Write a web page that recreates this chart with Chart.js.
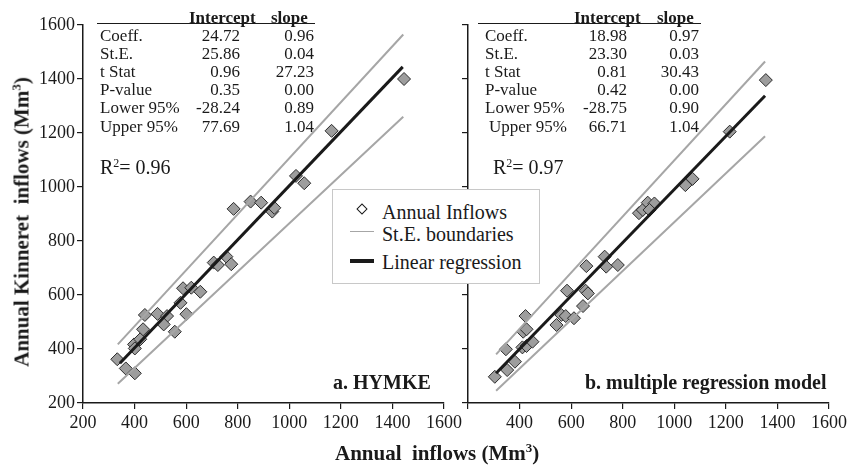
<!DOCTYPE html>
<html>
<head>
<meta charset="utf-8">
<script src="https://cdn.jsdelivr.net/npm/chart.js@4.4.0/dist/chart.umd.min.js"></script>
<style>
  body { margin: 0; width: 847px; height: 466px; overflow: hidden; background: #fff; position: relative;
         font-family: "Liberation Serif", "Times New Roman", serif; color: #1a1a1a; }
  .panel { position: absolute; top: 0; height: 466px; }
  .txt { position: absolute; white-space: nowrap; line-height: 1; }
  .tbl { font-size: 17px; }
  .hdr { font-weight: bold; font-size: 17px; }
  .num { text-align: right; width: 70px; }
  .rule { position: absolute; height: 0; border-top: 1.5px solid #1a1a1a; }
  .r2 { font-size: 20px; }
  .r2 sup { font-size: 12px; vertical-align: 7px; line-height: 0; }
  .ptitle { font-weight: bold; font-size: 20px; }
  .axtitle { font-weight: bold; font-size: 21px; }
  .axtitle sup { font-size: 13px; vertical-align: 8px; line-height: 0; }
  #legend { position: absolute; left: 332px; top: 189px; width: 206px; height: 93px;
            border: 1px solid #c8c8c8; background: #fff; }
  #legend .txt { font-size: 20px; }
</style>
</head>
<body>
<div class="panel" style="left:0;width:465px"><canvas id="hymke"></canvas></div>
<div class="panel" style="left:430px;width:420px"><canvas id="mrm"></canvas></div>
<div id="overlay"></div>

<script>
// Annual inflows (Mm3): model estimate (x) vs observed Kinneret inflow (y)
const hymkeX = [333, 366, 401, 398, 401, 422, 433, 440, 489, 526, 513, 556, 578, 601, 588, 620, 655,
                707, 723, 756, 775, 784, 850, 891, 934, 942, 1026, 1058, 1164, 1445];
const hymkeY = [362, 328, 310, 417, 402, 436, 473, 526, 530, 522, 491, 464, 571, 529, 625, 627, 612,
                720, 711, 742, 714, 919, 946, 942, 909, 923, 1041, 1014, 1208, 1400];
const mrmX = [304, 352, 347, 382, 423, 414, 427, 411, 427, 450, 543, 562, 579, 611, 584, 646, 656,
              665, 659, 730, 736, 781, 863, 878, 897, 923, 904, 1043, 1071, 1215, 1355];
const mrmY = [297, 322, 399, 353, 522, 464, 473, 406, 411, 427, 489, 526, 522, 514, 616, 559, 616,
              606, 707, 742, 705, 711, 903, 915, 942, 939, 915, 1007, 1030, 1205, 1396];

// line end points: [x start, x end] and [y start, y end]
const hymkeUpperX = [335, 1442], hymkeUpperY = [417, 1565];
const hymkeFitX = [343, 1440], hymkeFitY = [347, 1445];
const hymkeLowerX = [335, 1442], hymkeLowerY = [271, 1260];
const mrmUpperX = [309, 1352], mrmUpperY = [380, 1465];
const mrmFitX = [309, 1352], mrmFitY = [310, 1338];
const mrmLowerX = [309, 1352], mrmLowerY = [245, 1188];

const axisTicks = [200, 400, 600, 800, 1000, 1200, 1400, 1600];

// regression summary tables
const statRows = ["Coeff.", "St.E.", "t Stat", "P-value", "Lower 95%", "Upper 95%"];
const hymkeIntercept = ["24.72", "25.86", "0.96", "0.35", "-28.24", "77.69"];
const hymkeSlope = ["0.96", "0.04", "27.23", "0.00", "0.89", "1.04"];
const mrmIntercept = ["18.98", "23.30", "0.81", "0.42", "-28.75", "66.71"];
const mrmSlope = ["0.97", "0.03", "30.43", "0.00", "0.90", "1.04"];
const hymkeR2 = "0.96", mrmR2 = "0.97";

Chart.defaults.font.family = '"Liberation Serif", "Times New Roman", serif';
Chart.defaults.color = '#1a1a1a';

function pairs(xs, ys) {
  return xs.map((x, i) => ({ x: x, y: ys[i] }));
}

function lineSet(xs, ys, color, width) {
  return {
    type: 'line', data: pairs(xs, ys), borderColor: color, borderWidth: width,
    pointRadius: 0, fill: false, order: 0
  };
}

function makeChart(id, xs, ys, upper, fit, lower, yAxisWidth, showYLabels, skipFirstX) {
  new Chart(document.getElementById(id), {
    type: 'scatter',
    data: {
      datasets: [
        lineSet(fit[0], fit[1], '#1a1a1a', 3),
        lineSet(upper[0], upper[1], '#a6a6a6', 2),
        lineSet(lower[0], lower[1], '#a6a6a6', 2),
        {
          data: pairs(xs, ys), pointStyle: 'rectRot', pointRadius: 6.5,
          backgroundColor: '#9d9d9d', borderColor: '#2b2b2b', borderWidth: 1, order: 1
        }
      ]
    },
    options: {
      responsive: true,
      maintainAspectRatio: false,
      animation: false,
      layout: { padding: { top: 25, right: 20, left: 0, bottom: 0 } },
      plugins: { legend: { display: false }, tooltip: { enabled: false } },
      scales: {
        x: {
          type: 'linear', min: axisTicks[0], max: axisTicks[axisTicks.length - 1],
          afterBuildTicks: s => { s.ticks = axisTicks.map(v => ({ value: v })); },
          afterFit: s => { s.height = 63; },
          ticks: {
            font: { size: 18 }, padding: 3, maxRotation: 0, autoSkip: false,
            callback: v => (skipFirstX && v === axisTicks[0]) ? '' : v
          },
          grid: { drawOnChartArea: false, drawTicks: true, tickLength: 6, color: '#1a1a1a', lineWidth: 1.2 },
          border: { color: '#1a1a1a', width: 1.5 }
        },
        y: {
          type: 'linear', min: axisTicks[0], max: axisTicks[axisTicks.length - 1],
          afterBuildTicks: s => { s.ticks = axisTicks.map(v => ({ value: v })); },
          afterFit: s => { s.width = yAxisWidth; },
          ticks: {
            font: { size: 18 }, padding: 2,
            callback: v => showYLabels ? v : ''
          },
          grid: { drawOnChartArea: false, drawTicks: true, tickLength: 6, color: '#1a1a1a', lineWidth: 1.2 },
          border: { color: '#1a1a1a', width: 1.5 }
        }
      }
    }
  });
}

makeChart('hymke', hymkeX, hymkeY, [hymkeUpperX, hymkeUpperY], [hymkeFitX, hymkeFitY],
          [hymkeLowerX, hymkeLowerY], 83, true, false);
makeChart('mrm', mrmX, mrmY, [mrmUpperX, mrmUpperY], [mrmFitX, mrmFitY],
          [mrmLowerX, mrmLowerY], 38, false, true);

// text overlays: tables, R2, panel titles, axis titles, legend
const overlay = document.getElementById('overlay');

function addText(html, cls, left, top, extra) {
  const el = document.createElement('div');
  el.className = 'txt ' + cls;
  el.innerHTML = html;
  el.style.left = left + 'px';
  el.style.top = top + 'px';
  if (extra) Object.assign(el.style, extra);
  overlay.appendChild(el);
  return el;
}

function addTable(labelLeft, lastIndent, intRight, slopeRight, ruleLeft, ruleRight, intHdrLeft, slopeHdrLeft, intercepts, slopes) {
  addText('Intercept', 'hdr', intHdrLeft, 9);
  addText('slope', 'hdr', slopeHdrLeft, 9);
  const rule = document.createElement('div');
  rule.className = 'rule';
  rule.style.left = ruleLeft + 'px';
  rule.style.width = (ruleRight - ruleLeft) + 'px';
  rule.style.top = '23px';
  overlay.appendChild(rule);
  statRows.forEach((lab, i) => {
    const top = 26.5 + i * 18.2;
    addText(lab, 'tbl', labelLeft + (i === statRows.length - 1 ? lastIndent : 0), top);
    addText(intercepts[i], 'tbl num', intRight - 70, top);
    addText(slopes[i], 'tbl num', slopeRight - 70, top);
  });
}

addTable(100, 0, 240, 314, 97, 315, 189, 271, hymkeIntercept, hymkeSlope);
addTable(485, 4, 627, 699, 478, 701, 574, 657, mrmIntercept, mrmSlope);

addText('R<sup>2</sup>= ' + hymkeR2, 'r2', 100, 157);
addText('R<sup>2</sup>= ' + mrmR2, 'r2', 493, 157);

addText('a. HYMKE', 'ptitle', 333, 372);
addText('b. multiple regression model', 'ptitle', 585, 372);

addText('Annual&nbsp; inflows (Mm<sup>3</sup>)', 'axtitle', 335, 443);
addText('Annual Kinneret&nbsp; inflows (Mm<sup>3</sup>)', 'axtitle', 22, 222,
        { transform: 'translate(-50%, -50%) rotate(-90deg)' });

// legend box
const legend = document.createElement('div');
legend.id = 'legend';
legend.innerHTML =
  '<div style="position:absolute;left:25px;top:15px;width:6px;height:6px;border:1px solid #1a1a1a;background:#fff;transform:rotate(45deg)"></div>' +
  '<div class="txt" style="left:49px;top:12px">Annual Inflows</div>' +
  '<div style="position:absolute;left:17px;top:41px;width:24px;height:0;border-top:1.5px solid #a6a6a6"></div>' +
  '<div class="txt" style="left:49px;top:34px">St.E. boundaries</div>' +
  '<div style="position:absolute;left:17px;top:69px;width:24px;height:0;border-top:4px solid #1a1a1a"></div>' +
  '<div class="txt" style="left:49px;top:62px">Linear regression</div>';
overlay.appendChild(legend);
</script>
</body>
</html>
